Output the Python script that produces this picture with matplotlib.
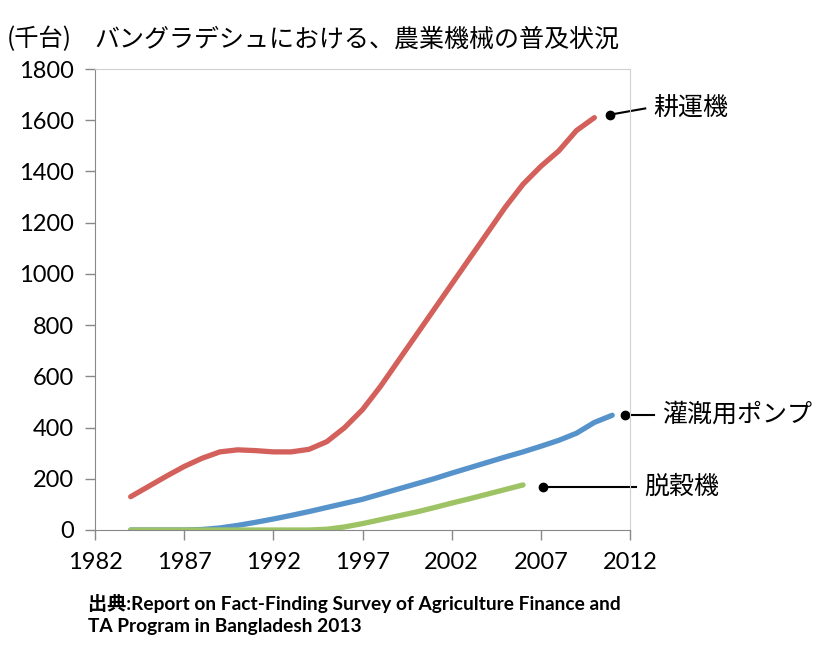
import matplotlib.pyplot as plt

plt.rcParams['font.family'] = ['Lato', 'Noto Sans CJK JP', 'DejaVu Sans']

# --- Data (thousand units) ---
years_tiller = list(range(1984, 2011))
tiller = [130, 170, 210, 248, 280, 305, 313, 310, 305, 305, 315, 345, 400, 470,
          560, 660, 760, 860, 960, 1060, 1160, 1260, 1350, 1420, 1480, 1560, 1610]

years_pump = list(range(1984, 2012))
pump = [0, 0, 0, 0, 2, 8, 18, 30, 43, 57, 72, 88, 104, 120, 140, 160, 180, 200,
        222, 243, 264, 285, 305, 327, 350, 378, 420, 448]

years_thresher = list(range(1984, 2007))
thresher = [0, 0, 0, 0, 0, 0, 0, 0, 0, 0, 0, 3, 12, 25, 40, 55, 70, 87, 105,
            122, 140, 158, 176]

labels = ['耕運機', '灌漑用ポンプ', '脱穀機']
colors = ['#d3605b', '#5793cb', '#9dc365']

# --- Plotting ---
fig = plt.figure(figsize=(8.29, 6.48), dpi=100)
ax = fig.add_axes([0.1146, 0.1821, 0.6454, 0.7114])

ax.plot(years_tiller, tiller, color=colors[0], linewidth=3.8, solid_capstyle='round')
ax.plot(years_pump, pump, color=colors[1], linewidth=3.8, solid_capstyle='round')
ax.plot(years_thresher, thresher, color=colors[2], linewidth=3.8, solid_capstyle='round')

ax.set_xlim(1982, 2012)
ax.set_ylim(0, 1800)
ax.set_xticks(range(1982, 2013, 5))
ax.set_yticks(range(0, 1801, 200))
ax.tick_params(labelsize=17, length=7, color='#888888', width=1)
ax.tick_params(axis='y', pad=8)
ax.tick_params(axis='x', pad=9)
for side in ['left', 'bottom']:
    ax.spines[side].set_color('#888888')
for side in ['top', 'right']:
    ax.spines[side].set_color('#d0d0d0')

# annotations with leader lines
dots = [(2010.9, 1622), (2011.7, 450), (2007.1, 168)]
texts = [(2013.3, 1646), (2013.8, 450), (2012.8, 168)]
for lab, d, t in zip(labels, dots, texts):
    ax.plot([d[0], t[0] - 0.45], [d[1], t[1]], color='black', linewidth=1.5,
            clip_on=False)
    ax.plot(d[0], d[1], 'o', color='black', markersize=6, clip_on=False)
    ax.text(t[0], t[1], lab, fontsize=18, va='center', ha='left',
            family='Noto Sans CJK JP')

fig.text(0.008, 0.940, '(千台)', fontsize=17.5, family='Noto Sans CJK JP', va='center')
fig.text(0.114, 0.938, 'バングラデシュにおける、農業機械の普及状況', fontsize=18,
         family='Noto Sans CJK JP', va='center')

fig.text(0.106, 0.069, '出典:Report on Fact-Finding Survey of Agriculture Finance and',
         fontsize=13.8, fontweight='bold', va='center')
fig.text(0.106, 0.033, 'TA Program in Bangladesh 2013',
         fontsize=13.8, fontweight='bold', va='center')

fig.savefig('out.png', dpi=100)
